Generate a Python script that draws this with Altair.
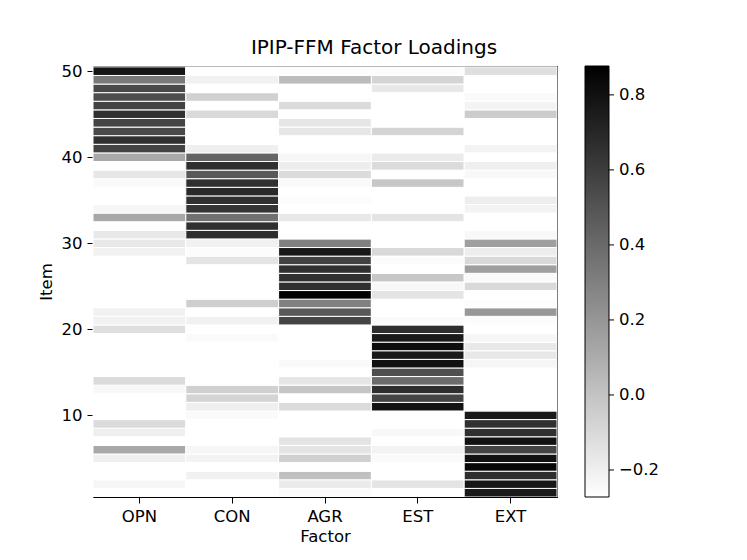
import altair as alt
import pandas as pd

factors = ["OPN", "CON", "AGR", "EST", "EXT"]
items = list(range(1, 51))

# loadings for items 1..50
opn = [-0.27, -0.23, -0.27, -0.27, -0.20, 0.12, -0.27, -0.20, -0.11, -0.27,
       -0.27, -0.27, -0.24, -0.11, -0.27, -0.27, -0.27, -0.27, -0.27, -0.13,
       -0.21, -0.21, -0.27, -0.27, -0.27, -0.27, -0.27, -0.27, -0.21, -0.17,
       -0.17, -0.27, 0.12, -0.23, -0.27, -0.27, -0.25, -0.16, -0.27, 0.12,
       0.58, 0.66, 0.55, 0.57, 0.66, 0.58, 0.53, 0.55, 0.33, 0.78]
con = [-0.27, -0.27, -0.21, -0.27, -0.22, -0.23, -0.27, -0.27, -0.27, -0.25,
       -0.20, -0.08, -0.06, -0.27, -0.27, -0.27, -0.27, -0.27, -0.25, -0.27,
       -0.21, -0.27, -0.05, -0.27, -0.27, -0.27, -0.27, -0.15, -0.26, -0.21,
       0.67, 0.66, 0.37, 0.64, 0.66, 0.69, 0.66, 0.48, 0.66, 0.42,
       -0.20, -0.27, -0.27, -0.27, -0.10, -0.27, -0.06, -0.27, -0.21, -0.27]
agr = [-0.25, -0.18, 0.01, -0.27, -0.06, -0.15, -0.15, -0.27, -0.27, -0.27,
       -0.11, -0.27, -0.01, -0.16, -0.27, -0.25, -0.27, -0.27, -0.27, -0.27,
       0.57, 0.48, 0.30, 0.87, 0.66, 0.66, 0.66, 0.58, 0.77, 0.30,
       -0.27, -0.27, -0.17, -0.27, -0.26, -0.27, -0.25, -0.11, -0.19, -0.23,
       -0.27, -0.27, -0.16, -0.16, -0.27, -0.11, -0.27, -0.27, 0.03, -0.26]
est = [-0.27, -0.15, -0.27, -0.27, -0.25, -0.22, -0.27, -0.24, -0.27, -0.27,
       0.79, 0.57, 0.67, 0.39, 0.52, 0.80, 0.76, 0.82, 0.76, 0.67,
       -0.25, -0.27, -0.27, -0.15, -0.24, -0.02, -0.27, -0.26, -0.10, -0.27,
       -0.27, -0.27, -0.15, -0.27, -0.27, -0.27, -0.02, -0.27, -0.11, -0.18,
       -0.27, -0.27, -0.08, -0.27, -0.27, -0.27, -0.27, -0.17, -0.08, -0.26]
ext = [0.76, 0.78, 0.67, 0.84, 0.80, 0.57, 0.79, 0.66, 0.66, 0.76,
       -0.27, -0.27, -0.27, -0.27, -0.27, -0.23, -0.17, -0.17, -0.23, -0.27,
       -0.26, 0.19, -0.26, -0.27, -0.10, -0.25, 0.16, -0.10, -0.19, 0.16,
       -0.24, -0.27, -0.27, -0.22, -0.19, -0.27, -0.27, -0.24, -0.20, -0.27,
       -0.22, -0.27, -0.27, -0.27, -0.04, -0.22, -0.25, -0.27, -0.27, -0.13]

y_ticks = [10, 20, 30, 40, 50]
cbar_ticks = [-0.2, 0.0, 0.2, 0.4, 0.6, 0.8]
cbar_domain = [-0.272, 0.877]

series = dict(zip(factors, [opn, con, agr, est, ext]))
rows = []
for f in factors:
    for it, v in zip(items, series[f]):
        rows.append({"Factor": f, "Item": it, "lo": it - 0.5, "hi": it + 0.5, "Loading": v})
df = pd.DataFrame(rows)
ticks_df = pd.DataFrame({"t": cbar_ticks})

FONT = "DejaVu Sans"
FS = 16.5
W, H = 464, 431
CB_OFF, CB_W = 28, 24

heat = alt.Chart(df).mark_rect(stroke="white", strokeWidth=1).encode(
    x=alt.X("Factor:N", sort=factors,
            scale=alt.Scale(paddingInner=0, paddingOuter=0),
            axis=alt.Axis(title="Factor", labelAngle=0, tickSize=6, labelPadding=5,
                          titlePadding=4, domainColor="black", tickColor="black")),
    y=alt.Y("lo:Q", scale=alt.Scale(domain=[0.5, 50.6], nice=False, zero=False),
            axis=alt.Axis(title="Item", values=y_ticks, tickSize=6, labelPadding=5,
                          titlePadding=7, grid=False, domainColor="black", tickColor="black")),
    y2="hi:Q",
    color=alt.Color("Loading:Q",
                    scale=alt.Scale(domain=cbar_domain, range=["#ffffff", "#000000"],
                                    interpolate="rgb"),
                    legend=alt.Legend(title=None, values=cbar_ticks, format=".1f",
                                      gradientLength=H, gradientThickness=CB_W,
                                      gradientStrokeColor="black", gradientStrokeWidth=1,
                                      labelFontSize=FS, labelFont=FONT, labelColor="black",
                                      labelOffset=10, offset=CB_OFF, padding=0)),
)

cbar_tick_marks = alt.Chart(ticks_df).mark_rule(color="black", strokeWidth=1).encode(
    y=alt.Y("t:Q", scale=alt.Scale(domain=cbar_domain, nice=False, zero=False), axis=None),
    x=alt.value(W + CB_OFF + CB_W),
    x2=alt.value(W + CB_OFF + CB_W + 5),
)

chart = alt.layer(heat, cbar_tick_marks).resolve_scale(y="independent").properties(
    width=W, height=H,
    title=alt.Title("IPIP-FFM Factor Loadings", fontSize=20, font=FONT,
                    fontWeight="normal", offset=5, dx=49, color="black"),
    autosize=alt.AutoSizeParams(type="none"),
    padding={"left": 85, "top": 58, "right": 180, "bottom": 54},
).configure_view(
    stroke="black", strokeWidth=1
).configure_axis(
    labelFont=FONT, titleFont=FONT, labelFontSize=FS, titleFontSize=FS,
    titleFontWeight="normal", labelColor="black", titleColor="black"
)

chart.save("out.html", embed_options={"renderer": "svg", "actions": False})
